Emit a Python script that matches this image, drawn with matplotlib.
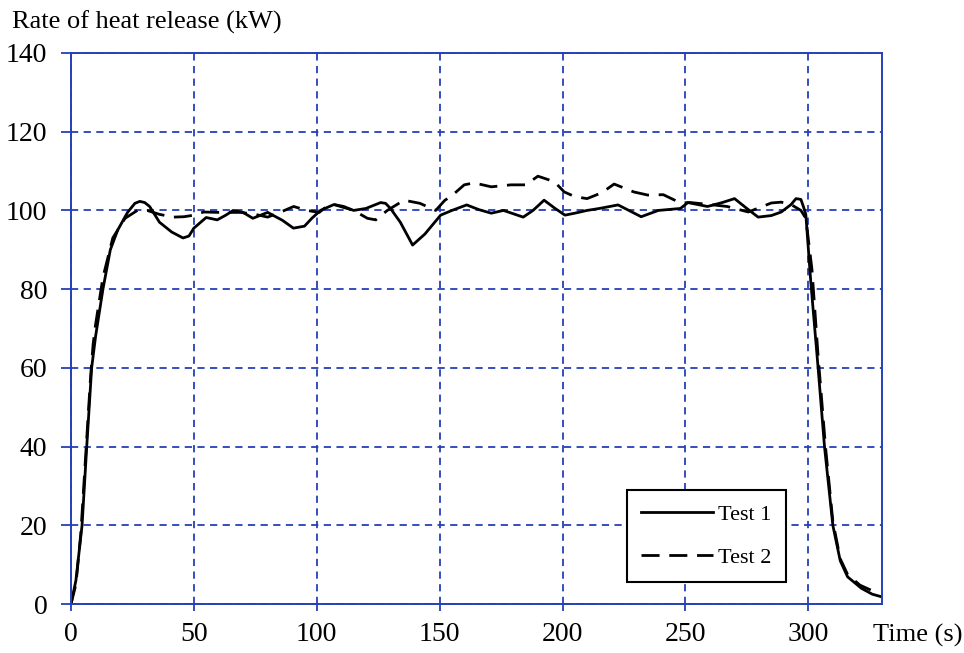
import matplotlib
matplotlib.use("Agg")
import matplotlib.pyplot as plt

# Test 1 (solid)
t1 = [0, 2, 4.5, 6.4, 8.4, 10, 13, 16, 19, 23, 26, 28, 30, 32, 36, 41, 45.6, 48, 50, 55, 59.5, 63, 66, 70, 74, 80, 86, 90.5, 95, 98, 101.5,
      107, 111, 115, 120, 126, 128, 130, 134, 139, 144, 150.4, 155, 161, 166, 171, 176, 184, 188, 192.5, 197, 201, 205, 210,
      215, 222.6, 227, 232, 239, 248, 251, 259, 265, 270, 275, 279.6, 285, 289, 293, 295, 297, 298, 299, 301, 304, 306.6,
      310, 313, 316, 321.6, 326, 330]
v1 = [0, 6, 20, 40, 60, 68, 80, 90, 95, 99.5, 101.8, 102.3, 102, 101, 97, 94.5, 93, 93.5, 95.5, 98.2, 97.6, 98.8, 100, 99.5, 98, 99.5, 97.5, 95.5, 96, 98, 100,
      101.5, 101, 100, 100.5, 102, 101.8, 100.5, 97, 91.2, 94, 98.8, 100, 101.4, 100.2, 99.3, 100, 98.3, 100, 102.6, 100.5, 98.8, 99.3, 100,
      100.5, 101.4, 100, 98.4, 100, 100.5, 102, 101, 102, 103, 100.5, 98.3, 98.7, 99.6, 101.5, 103, 102.8, 101, 99, 82, 60, 40,
      20, 11, 6.9, 4, 2.5, 1.8]

# Test 2 (dashed)
t2 = [0, 2, 4, 6, 8, 9, 10, 13, 17, 22, 27, 31, 36, 41.6, 46, 50, 54, 60, 69, 75, 80, 85, 90.6, 96, 101, 104,
      107, 115, 120.6, 124, 128.7, 135.5, 142, 148.4, 152, 156, 160, 164, 171, 179, 185, 190, 196.7, 200.7, 205, 210,
      216, 221, 229, 234.7, 241, 248, 252, 260, 267, 275.6, 285, 289, 293, 297, 299, 301.5, 304, 307, 310,
      313, 316, 321, 327]
v2 = [0, 5, 18, 38, 58, 66, 71, 83, 93, 98, 100, 100, 99, 98.3, 98.4, 98.8, 99.6, 99.5, 99.5, 99, 98.3, 99.5, 101, 100, 99.5, 101,
      101.5, 100, 98, 97.6, 100, 102.6, 101.8, 100, 102.5, 104.3, 106.5, 107, 106, 106.5, 106.5, 108.7, 107.3, 104.7, 103.5, 103,
      104.5, 106.7, 104.7, 103.9, 104, 101.9, 102, 101.5, 101, 99.6, 101.9, 102.1, 101.5, 100, 98, 85, 63, 40, 21,
      11.5, 7.5, 4.8, 3.1]

xticks = [0, 50, 100, 150, 200, 250, 300]
yticks = [0, 20, 40, 60, 80, 100, 120, 140]

plt.rcParams['font.family'] = ['Liberation Serif', 'DejaVu Serif']
blue = '#2440b8'

fig = plt.figure(figsize=(9.64, 6.53), dpi=100)
ax = fig.add_axes([71/964, 1-604/653, (882-71)/964, (604-53)/653])

ax.plot(t1, v1, color='black', lw=2.0, label='Test 1')
ax.plot(t2, v2, color='black', lw=2.0, ls=(0, (6.5, 3.5)), label='Test 2')

ax.set_xlim(0, 330)
ax.set_ylim(0, 140)
ax.set_xticks(xticks)
ax.set_yticks(yticks)
ax.grid(True, color=blue, ls=(0, (4, 3)), lw=1.3)
for s in ax.spines.values():
    s.set_color(blue)
    s.set_linewidth(1.4)
ax.tick_params(axis='both', colors=blue, labelcolor='black', labelsize=20, width=1.3)
ax.tick_params(axis='x', length=5, pad=8)
ax.tick_params(axis='y', length=7, pad=10)

fig.text(12/964, 1-22/653, 'Rate of heat release (kW)', fontsize=19, va='center', ha='left')
fig.text(873/964, 1-635/653, 'Time (s)', fontsize=19, va='center', ha='left')

leg = ax.legend(loc='lower left', bbox_to_anchor=((627-71)/811, (604-582)/551),
                fontsize=16, frameon=True, fancybox=False, edgecolor='black', framealpha=1,
                handlelength=3.2, handletextpad=0.25, labelspacing=1.0, borderaxespad=0, borderpad=0.65)
leg.get_frame().set_linewidth(1.5)

fig.savefig('out.png', dpi=100)
